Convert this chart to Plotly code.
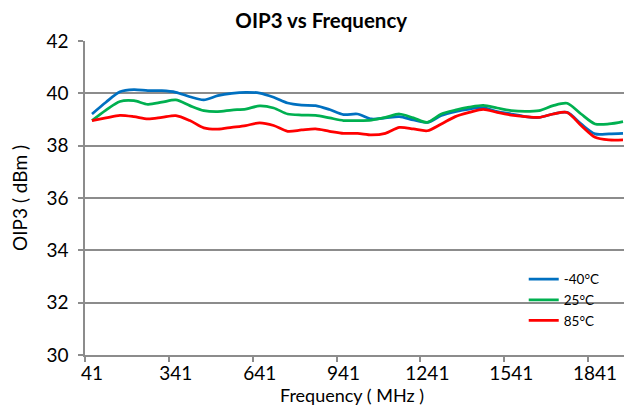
import plotly.graph_objects as go

freq_mhz = [41 + 50 * i for i in range(39)]

oip3_m40 = [39.21, 39.66, 40.06, 40.14, 40.10, 40.10, 40.04, 39.87, 39.75, 39.91,
            40.00, 40.04, 40.01, 39.85, 39.63, 39.55, 39.53, 39.38, 39.19,
            39.21, 39.02, 39.06, 39.11, 38.98, 38.89, 39.15, 39.30, 39.40, 39.45,
            39.30, 39.21, 39.11, 39.08, 39.21, 39.27, 38.83, 38.45, 38.45, 38.47]
oip3_25 = [38.96, 39.36, 39.69, 39.72, 39.58, 39.66, 39.75, 39.53, 39.34, 39.30,
           39.36, 39.40, 39.52, 39.44, 39.21, 39.17, 39.16, 39.06, 38.96,
           38.96, 38.98, 39.08, 39.21, 39.06, 38.89, 39.21, 39.36, 39.47, 39.54,
           39.44, 39.34, 39.31, 39.34, 39.53, 39.62, 39.21, 38.83, 38.83, 38.92]
oip3_85 = [38.96, 39.06, 39.16, 39.11, 39.02, 39.08, 39.15, 38.96, 38.68, 38.63,
           38.70, 38.77, 38.87, 38.77, 38.55, 38.60, 38.64, 38.55, 38.47,
           38.47, 38.41, 38.47, 38.70, 38.64, 38.57, 38.83, 39.11, 39.27, 39.39,
           39.27, 39.17, 39.11, 39.08, 39.21, 39.27, 38.77, 38.32, 38.22, 38.22]

series = [("-40°C", oip3_m40, "#0070C0"),
          ("25°C", oip3_25, "#00B050"),
          ("85°C", oip3_85, "#FF0000")]

x_labels = [41, 341, 641, 941, 1241, 1541, 1841]
x_marks = [16, 316, 616, 916, 1216, 1516, 1816]
x_range = [16, 1966]
grey = "#8C8C8C"
font = "Lato, Liberation Sans, sans-serif"

fig = go.Figure()
for name, vals, col in series:
    fig.add_trace(go.Scatter(x=freq_mhz, y=vals, name=name, mode="lines",
                             line=dict(color=col, width=2.75, shape="spline", smoothing=0.8)))

# page body has an 8px margin, so the figure is sized to fit the window
fig.update_layout(
    width=624, height=407,
    margin=dict(l=77, r=2, t=33, b=60),
    paper_bgcolor="white", plot_bgcolor="white",
    font=dict(family=font, size=19, color="black"),
    title=dict(text="<b>OIP3 vs Frequency</b>", x=0.502, xanchor="center",
               y=0.968, yanchor="middle", font=dict(size=20.5), automargin=False),
    showlegend=True,
    legend=dict(x=0.805, y=0.29, xanchor="left", yanchor="top",
                font=dict(size=13.5), bgcolor="rgba(0,0,0,0)", tracegroupgap=0),
    xaxis=dict(range=x_range, tickvals=x_labels, ticktext=[str(v) for v in x_labels],
               showgrid=False, showline=True, linecolor=grey, linewidth=1.5,
               ticks="", zeroline=False, automargin=False, ticklabelstandoff=0,
               minor=dict(tickvals=x_marks, ticks="outside", ticklen=5,
                          tickcolor=grey, tickwidth=1.5, showgrid=False)),
    yaxis=dict(range=[30, 42], dtick=2, showgrid=True, gridcolor=grey, gridwidth=1.5,
               showline=True, linecolor=grey, linewidth=1.5, ticks="outside",
               ticklen=5, tickcolor=grey, tickwidth=1.5, zeroline=False,
               automargin=False, ticklabelstandoff=6,
               title=dict(text="OIP3 ( dBm )", standoff=16, font=dict(size=19))),
    annotations=[dict(text="Frequency ( MHz )", xref="paper", yref="paper",
                      x=0.49, y=-0.127, xanchor="center", yanchor="middle",
                      showarrow=False, font=dict(size=18))],
)

fig.write_html("out.html")
